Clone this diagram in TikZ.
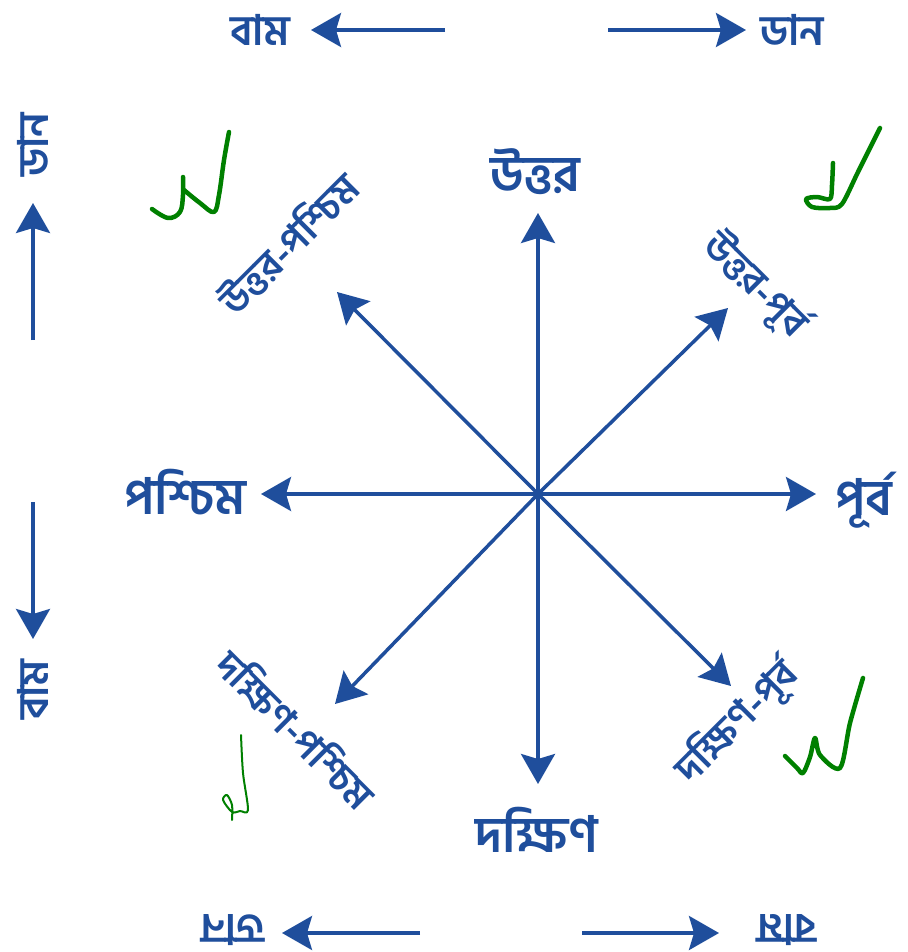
\documentclass[tikz,border=0pt]{standalone}
\usepackage{fontspec}
\newfontfamily\bn[Script=Bengali]{Hind Siliguri}
\usetikzlibrary{arrows.meta}
\definecolor{cblue}{RGB}{31,78,156}
\definecolor{cgreen}{RGB}{0,128,0}
\begin{document}
\begin{tikzpicture}[x=1pt,y=-1pt,
  arr/.style={draw=cblue, line width=3.5pt, -{Stealth[length=30pt,width=34pt,inset=5pt]}},
  biglab/.style={text=cblue, font=\bn\bfseries\fontsize{50}{54}\selectfont, inner sep=0pt},
  diaglab/.style={text=cblue, font=\bn\bfseries\fontsize{39}{42}\selectfont, inner sep=0pt},
  sidelab/.style={text=cblue, font=\bn\bfseries\fontsize{42}{46}\selectfont, inner sep=0pt},
  checkmark/.style={draw=cgreen, line width=4.5pt, line cap=round, line join=round},
  thincheck/.style={draw=cgreen, line width=2pt, line cap=round, line join=round}]
\useasboundingbox (0,0) rectangle (907,952);
% compass
\coordinate (c) at (538,494);
\coordinate (tn) at (538,213);
\coordinate (ts) at (538,784);
\coordinate (tw) at (261,494);
\coordinate (te) at (816,494);
\coordinate (tne) at (728,308);
\coordinate (tnw) at (337,292);
\coordinate (tsw) at (335,704);
\coordinate (tse) at (731,686);
\foreach \t in {tn,ts,tw,te,tne,tnw,tsw,tse} \draw[arr] (c) -- (\t);
\node[biglab] (ln) at (535,172) {উত্তর};
\node[biglab] (ls) at (537,830) {দক্ষিণ};
\node[biglab] (lw) at (185,492) {পশ্চিম};
\node[biglab] (le) at (864,500) {পূর্ব};
\node[diaglab, rotate=-45] (lne) at (755,285) {উত্তর-পূর্ব};
\node[diaglab, rotate=45] (lnw) at (288,243) {উত্তর-পশ্চিম};
\node[diaglab, rotate=-45] (lsw) at (297,728) {দক্ষিণ-পশ্চিম};
\node[diaglab, rotate=45] (lse) at (737,722) {দক্ষিণ-পূর্ব};
% top
\node[sidelab] (tl) at (260,30) {বাম};
\node[sidelab] (tr) at (792,30) {ডান};
\coordinate (tla) at (445,30); \coordinate (tlb) at (311,30);
\coordinate (tra) at (608,30); \coordinate (trb) at (746,30);
\draw[arr] (tla) -- (tlb);
\draw[arr] (tra) -- (trb);
% left side
\node[sidelab, rotate=90] (su) at (33,145) {ডান};
\node[sidelab, rotate=90] (sd) at (33,690) {বাম};
\coordinate (sua) at (33,340); \coordinate (sub) at (33,203);
\coordinate (sda) at (33,502); \coordinate (sdb) at (33,639);
\draw[arr] (sua) -- (sub);
\draw[arr] (sda) -- (sdb);
% bottom
\node[sidelab, rotate=180] (bl) at (233,930) {ডান};
\node[sidelab, rotate=180] (br) at (787,930) {বাম};
\coordinate (bla) at (420,933); \coordinate (blb) at (282,933);
\coordinate (bra) at (582,933); \coordinate (brb) at (719,933);
\draw[arr] (bla) -- (blb);
\draw[arr] (bra) -- (brb);
% green checks
\draw[checkmark] plot[smooth, tension=0.6] coordinates {(152,209) (168,218) (180,212) (183,195) (183,177)};
\draw[checkmark] plot[smooth, tension=0.6] coordinates {(184,190) (200,203) (214,212) (219,195) (224,160) (229,132)};
\draw[checkmark] plot[smooth, tension=0.5] coordinates {(833,163) (832,185) (830,199) (817,197) (806,199) (812,207) (830,208) (842,204) (858,172) (880,128)};
\draw[thincheck] plot[smooth, tension=0.5] coordinates {(241,735) (243,773) (248,810) (240,811) (232,812) (223,800) (227,795) (232,805) (232,820)};
\draw[checkmark] plot[smooth, tension=0.5] coordinates {(785,756) (797,768) (803,773) (810,757) (815,738) (820,755) (840,768) (850,723) (863,678)};
\end{tikzpicture}
\end{document}
